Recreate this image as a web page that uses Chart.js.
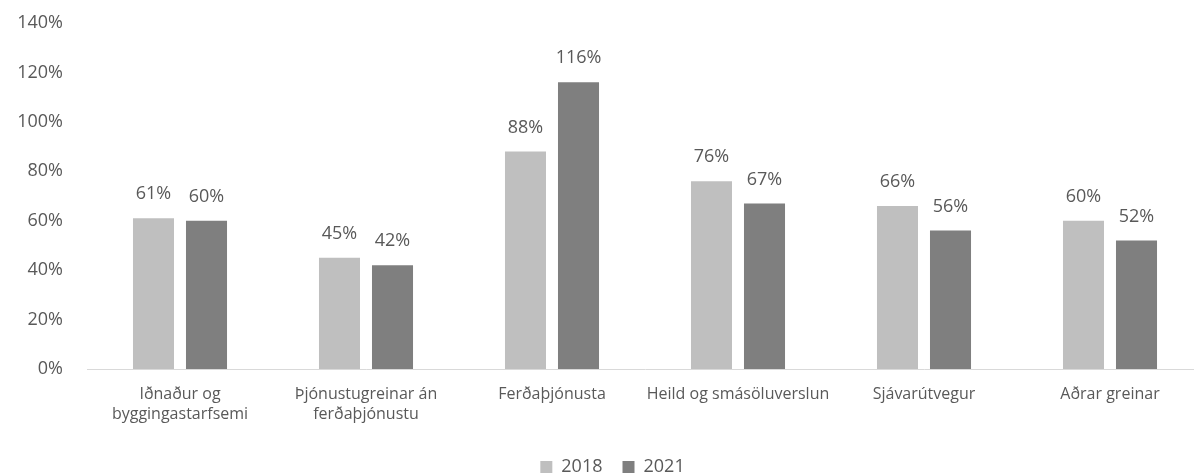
<!DOCTYPE html>
<html>
<head>
<meta charset="utf-8">
<script src="https://cdn.jsdelivr.net/npm/chart.js@4"></script>
<style>
  html, body { margin: 0; padding: 0; background: #fff; overflow: hidden; }
  #wrap { position: absolute; left: 0; top: 0; width: 1210px; height: 476px; }
</style>
</head>
<body>
<div id="wrap"><canvas id="myChart" width="1210" height="476"></canvas></div>
<script>
const categories = [
  ["Iðnaður og", "byggingastarfsemi"],
  ["Þjónustugreinar án", "ferðaþjónustu"],
  "Ferðaþjónusta",
  "Heild og smásöluverslun",
  "Sjávarútvegur",
  "Aðrar greinar"
];
const values2018 = [61, 45, 88, 76, 66, 60];
const values2021 = [60, 42, 116, 67, 56, 52];
const yTicks = [0, 20, 40, 60, 80, 100, 120, 140];

const textColor = "#595959";
const numFont = { family: "'Open Sans', sans-serif", size: 18 };
const catFont = { family: "'Open Sans', sans-serif", size: 16, lineHeight: 1.25 };

// labels above each bar
const barLabels = {
  id: "barLabels",
  afterDatasetsDraw(chart) {
    const ctx = chart.ctx;
    ctx.save();
    ctx.font = numFont.size + "px " + numFont.family;
    ctx.fillStyle = textColor;
    ctx.textAlign = "center";
    ctx.textBaseline = "middle";
    chart.data.datasets.forEach((ds, i) => {
      chart.getDatasetMeta(i).data.forEach((bar, j) => {
        ctx.fillText(ds.data[j] + "%", bar.x, bar.y - 24);
      });
    });
    ctx.restore();
  }
};

// legend sits a bit right of canvas centre in the original
const legendShift = {
  id: "legendShift",
  afterLayout(chart) {
    chart.legend.left += 11;
    chart.legend.right += 11;
  }
};

const chartPlace = document.getElementById("myChart");
const myChart = new Chart(chartPlace, {
  type: "bar",
  data: {
    labels: categories,
    datasets: [
      { label: "2018", data: values2018, backgroundColor: "#bfbfbf" },
      { label: "2021", data: values2021, backgroundColor: "#7f7f7f" }
    ]
  },
  options: {
    responsive: false,
    animation: false,
    categoryPercentage: 0.57,
    barPercentage: 0.774,
    layout: { padding: { top: 23, left: 0, right: 7, bottom: -10 } },
    plugins: {
      tooltip: { enabled: false },
      legend: {
        position: "bottom",
        labels: {
          boxWidth: 12,
          boxHeight: 12,
          padding: 20,
          color: textColor,
          font: numFont
        }
      }
    },
    scales: {
      x: {
        grid: { display: false, drawTicks: false },
        border: { display: true, color: "#d9d9d9", width: 1 },
        ticks: { color: textColor, font: catFont, padding: 15, maxRotation: 0, autoSkip: false },
        afterFit: (s) => { s.height = 69; }
      },
      y: {
        min: 0,
        max: 140,
        grid: { display: false, drawTicks: false },
        border: { display: false },
        afterBuildTicks: (s) => { s.ticks = yTicks.map(v => ({ value: v })); },
        ticks: {
          color: textColor,
          font: numFont,
          padding: 24,
          callback: (v) => v + "%"
        },
        afterFit: (s) => {
          s.width = 87;
          s.paddingTop = 11;
          s.paddingBottom = 11;
        }
      }
    }
  },
  plugins: [barLabels, legendShift]
});
</script>
</body>
</html>
